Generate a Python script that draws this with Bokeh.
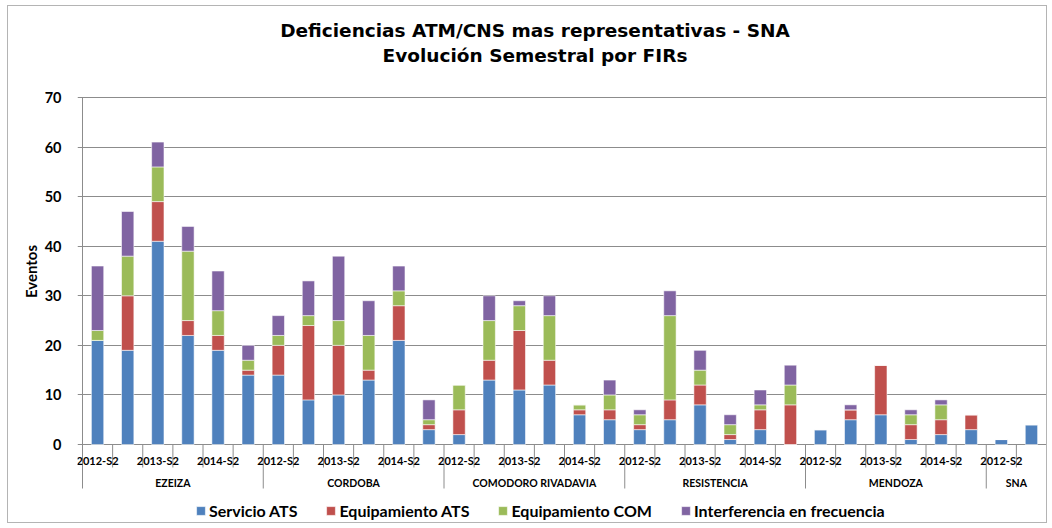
from bokeh.plotting import figure
from bokeh.models import Range1d, FixedTicker, Legend, LegendItem, ColumnDataSource
from bokeh.core.properties import value
from bokeh.embed import file_html
from bokeh.resources import INLINE

# ---------------- data ----------------
title_lines = ["Deficiencias ATM/CNS mas representativas - SNA", "Evolución Semestral por FIRs"]
y_label = "Eventos"
groups = ["EZEIZA", "CORDOBA", "COMODORO RIVADAVIA", "RESISTENCIA", "MENDOZA", "SNA"]
semesters = ["2012-S2", "2013-S1", "2013-S2", "2014-S1", "2014-S2", "2015-S1"]
tick_labels = ["2012-S2", "", "2013-S2", "", "2014-S2", ""]
series_names = ["Servicio ATS", "Equipamiento ATS", "Equipamiento COM", "Interferencia en frecuencia"]

servicio_ats = {
    "EZEIZA": [21, 19, 41, 22, 19, 14],
    "CORDOBA": [14, 9, 10, 13, 21, 3],
    "COMODORO RIVADAVIA": [2, 13, 11, 12, 6, 5],
    "RESISTENCIA": [3, 5, 8, 1, 3, 0],
    "MENDOZA": [3, 5, 6, 1, 2, 3],
    "SNA": [1, 4],
}
equipamiento_ats = {
    "EZEIZA": [0, 11, 8, 3, 3, 1],
    "CORDOBA": [6, 15, 10, 2, 7, 1],
    "COMODORO RIVADAVIA": [5, 4, 12, 5, 1, 2],
    "RESISTENCIA": [1, 4, 4, 1, 4, 8],
    "MENDOZA": [0, 2, 10, 3, 3, 3],
    "SNA": [0, 0],
}
equipamiento_com = {
    "EZEIZA": [2, 8, 7, 14, 5, 2],
    "CORDOBA": [2, 2, 5, 7, 3, 1],
    "COMODORO RIVADAVIA": [5, 8, 5, 9, 1, 3],
    "RESISTENCIA": [2, 17, 3, 2, 1, 4],
    "MENDOZA": [0, 0, 0, 2, 3, 0],
    "SNA": [0, 0],
}
interferencia = {
    "EZEIZA": [13, 9, 5, 5, 8, 3],
    "CORDOBA": [4, 7, 13, 7, 5, 4],
    "COMODORO RIVADAVIA": [0, 5, 1, 4, 0, 3],
    "RESISTENCIA": [1, 5, 4, 2, 3, 4],
    "MENDOZA": [0, 1, 0, 1, 1, 0],
    "SNA": [0, 0],
}
y_ticks = [0, 10, 20, 30, 40, 50, 60, 70]

colors = ["#4F81BD", "#C0504D", "#9BBB59", "#8064A2"]
GRAY = "#8c8c8c"

# ---------------- build columns ----------------
xs, s1, s2, s3, s4 = [], [], [], [], []
lab_x, lab_t = [], []
grp_x, grp_t = [], []
small_ticks, grp_bounds = [], []
pos = 0
for g in groups:
    n = len(servicio_ats[g])
    start = pos
    for i in range(n):
        xs.append(pos + 0.5)
        s1.append(servicio_ats[g][i])
        s2.append(equipamiento_ats[g][i])
        s3.append(equipamiento_com[g][i])
        s4.append(interferencia[g][i])
        if tick_labels[i]:
            lab_x.append(pos + 0.5)
            lab_t.append(tick_labels[i])
        pos += 1
        if i < n - 1:
            small_ticks.append(pos)
    grp_x.append((start + pos) / 2)
    grp_t.append(g)
    grp_bounds.append(pos)
n_slots = pos

src = ColumnDataSource(dict(x=xs, s1=s1, s2=s2, s3=s3, s4=s4))

# ---------------- layout constants (page pixels) ----------------
CANVAS_X0, CANVAS_Y0 = 8, 6          # canvas origin on the page
W, H = 1040, 518
AXIS_X, RIGHT_X = 82, 1046           # x of value axis and right end of plot
FRAME_L = 77                          # frame starts where the tick marks start
Y0_PX, Y70_PX = 444, 97
FRAME_T, FRAME_B = 18, 524
slot_px = (RIGHT_X - AXIS_X) / n_slots
ppu = (Y0_PX - Y70_PX) / float(y_ticks[-1])


def yd(page_y):
    return (Y0_PX - page_y) / ppu


def xd(page_x):
    return (page_x - AXIS_X) / slot_px


y_cat_bottom = yd(488)

p = figure(width=W, height=H,
           x_range=Range1d(xd(FRAME_L), n_slots), y_range=Range1d(yd(FRAME_B), yd(FRAME_T)),
           x_axis_location=None, title=None,
           output_backend="svg", toolbar_location=None,
           min_border_left=FRAME_L - CANVAS_X0, min_border_right=CANVAS_X0 + W - RIGHT_X,
           min_border_top=FRAME_T - CANVAS_Y0, min_border_bottom=0,
           outline_line_color=None)
p.styles = {"border": "1px solid #b4b4b4", "margin-left": "7px", "margin-top": "5px"}

# grid / axes
p.xgrid.visible = False
p.ygrid.ticker = FixedTicker(ticks=y_ticks)
p.ygrid.grid_line_color = GRAY
p.ygrid.grid_line_width = 1
ax = p.yaxis[0]
ax.ticker = FixedTicker(ticks=y_ticks)
ax.axis_line_color = None
ax.major_tick_line_color = None
ax.minor_tick_line_color = None
ax.major_label_text_font = "Lato"
ax.major_label_text_font_style = "bold"
ax.major_label_text_font_size = "14.5px"
ax.major_label_text_color = "black"
ax.major_label_standoff = 10
ax.axis_label = y_label
ax.axis_label_text_font = "Lato"
ax.axis_label_text_font_style = "bold"
ax.axis_label_text_font_size = "15px"
ax.axis_label_text_color = "black"
ax.axis_label_standoff = 2

# bars
renderers = p.vbar_stack(["s1", "s2", "s3", "s4"], x="x", width=0.41, source=src,
                         color=colors, line_color="white", line_alpha=0.7, line_width=0.8)

# value axis line, category ticks and group separators
p.segment(x0=[0], y0=[y_cat_bottom], x1=[0], y1=[y_ticks[-1]], line_color=GRAY, line_width=1)
p.segment(x0=small_ticks, y0=[0] * len(small_ticks), x1=small_ticks,
          y1=[yd(467)] * len(small_ticks), line_color=GRAY, line_width=1)
p.segment(x0=grp_bounds, y0=[0] * len(grp_bounds), x1=grp_bounds,
          y1=[y_cat_bottom] * len(grp_bounds), line_color=GRAY, line_width=1)

p.text(x=lab_x, y=[yd(460)] * len(lab_x), text=lab_t,
       text_align="center", text_baseline="middle", text_font=value("Lato"),
       text_font_style="bold", text_font_size="11px", text_color="black")
p.text(x=grp_x, y=[yd(482)] * len(grp_x), text=grp_t,
       text_align="center", text_baseline="middle", text_font=value("Lato"),
       text_font_style="bold", text_font_size="10.5px", text_color="black")

# title (two centred lines)
p.text(x=[xd(534.5)] * 2, y=[yd(30), yd(55)], text=title_lines,
       text_align="center", text_baseline="middle", text_font=value("DejaVu Sans"),
       text_font_style="bold", text_font_size="18.5px", text_color="black")

# legend
items = [LegendItem(label=n, renderers=[r]) for n, r in zip(series_names, renderers)]
legend = Legend(items=items, orientation="horizontal", location=(195 - FRAME_L, 3.5),
                padding=0, margin=0, spacing=28, glyph_width=11, glyph_height=11,
                label_standoff=3, label_height=20,
                label_text_font="Lato", label_text_font_style="bold",
                label_text_font_size="16px", label_text_color="black",
                border_line_alpha=0, background_fill_alpha=0)
p.add_layout(legend, "center")

open("out.html", "w").write(file_html(p, INLINE))
